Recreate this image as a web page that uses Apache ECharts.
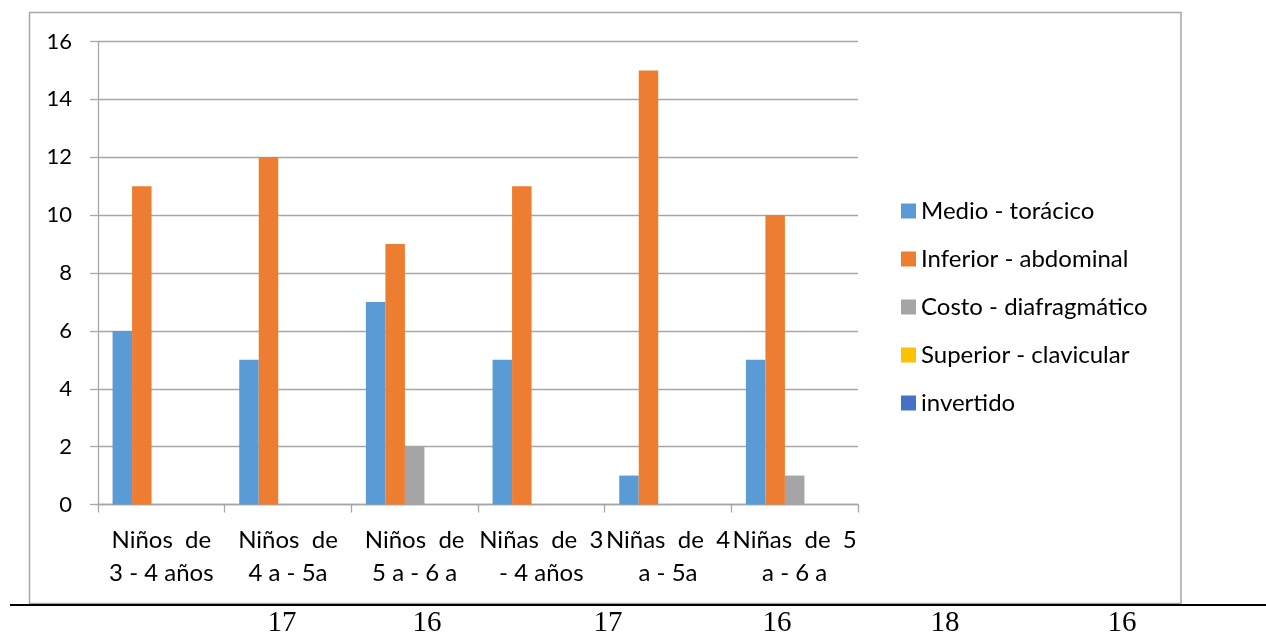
<!DOCTYPE html>
<html>
<head>
<meta charset="utf-8">
<script src="https://cdn.jsdelivr.net/npm/echarts@6/dist/echarts.min.js"></script>
<style>
  html, body { margin: 0; padding: 0; background: #fff; }
  #chart { width: 1266px; height: 641px; }
</style>
</head>
<body>
<div id="chart"></div>
<script>
// Grupos de edad (eje X)
const categories = [
  'Niños  de\n3 - 4 años',
  'Niños  de\n4 a - 5a',
  'Niños  de\n5 a - 6 a',
  'Niñas  de  3\n- 4 años',
  'Niñas  de  4\na - 5a',
  'Niñas  de  5\na - 6 a'
];

// Tipo de respiración por grupo
const medioToracico = [6, 5, 7, 5, 1, 5];
const inferiorAbdominal = [11, 12, 9, 11, 15, 10];
const costoDiafragmatico = [0, 0, 2, 0, 0, 1];
const superiorClavicular = [0, 0, 0, 0, 0, 0];
const invertido = [0, 0, 0, 0, 0, 0];

const seriesNames = ['Medio - torácico', 'Inferior - abdominal', 'Costo - diafragmático', 'Superior - clavicular', 'invertido'];
const seriesValues = [medioToracico, inferiorAbdominal, costoDiafragmatico, superiorClavicular, invertido];
const seriesColors = ['#5B9BD5', '#ED7D31', '#A5A5A5', '#FFC000', '#4472C4'];

// Totales impresos bajo el gráfico
const totals = ['17', '16', '17', '16', '18', '16'];
const totalsX = [282, 427, 608, 777, 945, 1122];

const font = 'Lato, "Open Sans", sans-serif';
const chart = echarts.init(document.getElementById('chart'));

chart.setOption({
  animation: false,
  backgroundColor: '#fff',
  grid: { left: 98, right: 408, top: 41.5, bottom: 136.5, containLabel: false },
  legend: {
    orient: 'vertical',
    left: 901,
    top: 199,
    padding: 0,
    itemWidth: 15,
    itemHeight: 15,
    itemGap: 24,
    icon: 'rect',
    textStyle: { fontFamily: font, fontSize: 24, lineHeight: 24, color: '#000' },
    data: seriesNames
  },
  xAxis: {
    type: 'category',
    data: categories,
    axisLine: { lineStyle: { color: '#A6A6A6', width: 1.3 } },
    axisTick: { show: true, length: 8, lineStyle: { color: '#A6A6A6', width: 1.3 } },
    axisLabel: {
      interval: 0,
      margin: 19,
      fontFamily: font,
      fontSize: 24,
      lineHeight: 33,
      color: '#000'
    }
  },
  yAxis: {
    type: 'value',
    min: 0,
    max: 16,
    interval: 2,
    axisLine: { show: true, lineStyle: { color: '#A6A6A6', width: 1.3 } },
    axisTick: { show: true, length: 8, lineStyle: { color: '#A6A6A6', width: 1.3 } },
    splitLine: { lineStyle: { color: '#A6A6A6', width: 1.3 } },
    axisLabel: { margin: 26, fontFamily: font, fontSize: 22, color: '#000' }
  },
  series: seriesNames.map((name, i) => ({
    name,
    type: 'bar',
    data: seriesValues[i],
    barGap: '0%',
    barCategoryGap: '23%',
    itemStyle: { color: seriesColors[i] }
  })),
  graphic: [
    {
      type: 'rect',
      shape: { x: 29.5, y: 12.5, width: 1151.5, height: 591 },
      style: { fill: null, stroke: '#A6A6A6', lineWidth: 1.5 },
      silent: true,
      z: 100
    },
    {
      type: 'line',
      shape: { x1: 10, y1: 605, x2: 1266, y2: 605 },
      style: { stroke: '#000', lineWidth: 2 },
      silent: true,
      z: 101
    }
  ].concat(totals.map((t, i) => ({
    type: 'text',
    x: totalsX[i],
    y: 623,
    style: {
      text: t,
      fill: '#000',
      font: '29px "Liberation Serif", "DejaVu Serif", serif',
      textAlign: 'center',
      textVerticalAlign: 'middle'
    },
    silent: true,
    z: 101
  })))
});
</script>
</body>
</html>
